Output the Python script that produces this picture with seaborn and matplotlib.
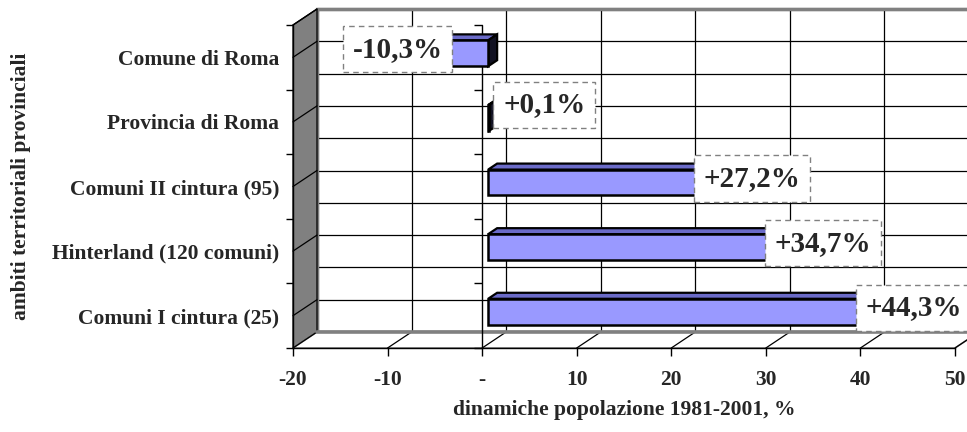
import numpy as np
import matplotlib
matplotlib.use("Agg")
import matplotlib.pyplot as plt
import matplotlib.transforms as mtransforms
from matplotlib.patches import Polygon, Rectangle
import seaborn as sns

# Data: population change 1981-2001 (%) by territorial area
categories = [
    "Comune di Roma",
    "Provincia di Roma",
    "Comuni II cintura (95)",
    "Hinterland (120 comuni)",
    "Comuni I cintura (25)",
]
values = [-10.3, 0.1, 27.2, 34.7, 44.3]
xticks = [-20, -10, 0, 10, 20, 30, 40, 50]
xticklabels = ["-20", "-10", "-", "10", "20", "30", "40", "50"]

sns.set_style("white")
plt.rcParams["font.family"] = ["Liberation Serif", "DejaVu Serif"]
plt.rcParams["font.weight"] = "bold"

W, H, DPI = 967, 432, 100
fig = plt.figure(figsize=(W / DPI, H / DPI), dpi=DPI)
# front plane of the 3D box
left, right, top, bottom = 293, 955, 25, 348
ax = fig.add_axes([left / W, (H - bottom) / H, (right - left) / W, (bottom - top) / H])
ax.patch.set_visible(False)

sns.barplot(x=values, y=categories, orient="h", color="#9999FF", width=0.4,
            edgecolor="black", linewidth=1.8, saturation=1, ax=ax)
bars = list(ax.patches)

ax.set_xlim(-20, 50)
ax.set_ylim(4.5, -0.5)

DEPTH = np.array([24.0, 16.0])   # pixel offset from front plane to back wall
BAR_FRONT, BAR_BACK = 0.25, 0.625

def off(frac):
    d = DEPTH * frac
    return mtransforms.offset_copy(ax.transData, fig=fig, x=d[0], y=d[1], units="dots")

def P(x, y, frac):
    return ax.transData.transform((x, y)) + DEPTH * frac

ident = mtransforms.IdentityTransform()
n = len(categories)
ylo, yhi = -0.5, n - 0.5

# back wall
ax.add_patch(Rectangle((-20, ylo), 70, n, transform=off(1), facecolor="white",
                       edgecolor="#808080", lw=2.4, zorder=0.3, clip_on=False))
# back wall grid: vertical lines at value ticks, horizontal at category centres and boundaries
for v in xticks[1:]:
    ax.plot([v, v], [ylo, yhi], color="black", lw=0.9, transform=off(1), zorder=0.4, clip_on=False)
for y in np.arange(ylo + 0.5, yhi, 0.5):
    ax.plot([-20, 50], [y, y], color="black", lw=0.9, transform=off(1), zorder=0.4, clip_on=False)
# redraw the border on top of the grid
ax.add_patch(Rectangle((-20, ylo), 70, n, transform=off(1), facecolor="none",
                       edgecolor="#808080", lw=2.4, zorder=0.45, clip_on=False))

# left wall
lw_pts = [P(-20, ylo, 0), P(-20, ylo, 1), P(-20, yhi, 1), P(-20, yhi, 0)]
ax.add_patch(Polygon(lw_pts, closed=True, transform=ident, facecolor="#808080",
                     edgecolor="black", lw=0.9, zorder=0.5, clip_on=False))
for i in range(n):
    a, b = P(-20, i, 0), P(-20, i, 1)
    ax.plot([a[0], b[0]], [a[1], b[1]], color="black", lw=0.9, transform=ident,
            zorder=0.55, clip_on=False)

# floor
fl_pts = [P(-20, yhi, 0), P(50, yhi, 0), P(50, yhi, 1), P(-20, yhi, 1)]
ax.add_patch(Polygon(fl_pts, closed=True, transform=ident, facecolor="white",
                     edgecolor="#808080", lw=1.2, zorder=0.5, clip_on=False))
for v in xticks:
    a, b = P(v, yhi, 0), P(v, yhi, 1)
    ax.plot([a[0], b[0]], [a[1], b[1]], color="black", lw=0.9, transform=ident,
            zorder=0.55, clip_on=False)
a, b = P(-20, yhi, 1), P(50, yhi, 1)
ax.plot([a[0], b[0]], [a[1], b[1]], color="#808080", lw=2.6, transform=ident,
        zorder=0.56, clip_on=False)
# top edge of left wall
a, b = P(-20, ylo, 0), P(-20, ylo, 1)
ax.plot([a[0], b[0]], [a[1], b[1]], color="black", lw=1.0, transform=ident, zorder=0.6, clip_on=False)

# category axis crossing at zero
ax.plot([0, 0], [ylo, yhi], color="black", lw=1.0, zorder=0.8, clip_on=False)
ax.plot(np.zeros(n + 1), np.arange(ylo, yhi + 0.01, 1.0), ls="none", marker=0,
        ms=6, mew=1.0, color="black", zorder=0.8, clip_on=False)

# 3D bar faces
for p in bars:
    p.set_transform(off(BAR_FRONT))
    p.set_zorder(1.2)
    x0 = min(p.get_x(), p.get_x() + p.get_width())
    x1 = max(p.get_x(), p.get_x() + p.get_width())
    yt = p.get_y()
    yb = p.get_y() + p.get_height()
    topf = [P(x0, yt, BAR_FRONT), P(x1, yt, BAR_FRONT), P(x1, yt, BAR_BACK), P(x0, yt, BAR_BACK)]
    ax.add_patch(Polygon(topf, closed=True, transform=ident, facecolor="#6B6BC8",
                         edgecolor="black", lw=1.6, zorder=1.1, clip_on=False))
    side = [P(x1, yt, BAR_FRONT), P(x1, yt, BAR_BACK), P(x1, yb, BAR_BACK), P(x1, yb, BAR_FRONT)]
    ax.add_patch(Polygon(side, closed=True, transform=ident, facecolor="#111122",
                         edgecolor="black", lw=1.6, zorder=1.1, clip_on=False))

# value labels
for i, v in enumerate(values):
    txt = f"{v:+.1f}%".replace(".", ",")
    if abs(v) < 5:
        t = mtransforms.offset_copy(ax.transData, fig=fig, x=20, y=17, units="dots")
        ha = "left"
    else:
        t = mtransforms.offset_copy(ax.transData, fig=fig, x=13, y=8, units="dots")
        ha = "center"
    ax.text(v, i, txt, transform=t, ha=ha, va="center", fontsize=21, fontweight="bold",
            zorder=5, clip_on=False,
            bbox=dict(boxstyle="square,pad=0.33", facecolor="white", edgecolor="#808080",
                      lw=1.0, linestyle=(0, (4, 3))))

# axes: spines, ticks and labels on the front plane
for s in ["top", "right"]:
    ax.spines[s].set_visible(False)
for s in ["left", "bottom"]:
    ax.spines[s].set_visible(True)
    ax.spines[s].set_color("black")
    ax.spines[s].set_linewidth(1.0)
    ax.spines[s].set_zorder(2.5)

ax.set_xticks(xticks)
ax.set_xticklabels(xticklabels, fontsize=15.5, fontweight="bold")
ax.tick_params(axis="x", direction="out", length=6, width=1.0, color="black", pad=10,
               bottom=True)
ax.set_yticks(range(n))
ax.set_yticklabels(categories, fontsize=15.5, fontweight="bold")
ax.set_yticks(np.arange(ylo, yhi + 0.01, 1.0), minor=True)
ax.tick_params(axis="y", which="major", length=0, pad=10, left=False)
ax.tick_params(axis="y", which="minor", direction="out", length=5, width=1.0,
               color="black", left=True)
ax.grid(False)

ax.set_xlabel("dinamiche popolazione 1981-2001, %", fontsize=15.5, fontweight="bold")
ax.xaxis.set_label_coords(0.5, -(410 - 348) / (bottom - top))
ax.xaxis.label.set_va("center")
ax.set_ylabel("ambiti territoriali provinciali", fontsize=15.5, fontweight="bold")
ax.yaxis.set_label_coords(-(293 - 21) / (right - left), 0.5)
ax.yaxis.label.set_va("center")

fig.savefig("out.png", dpi=DPI, facecolor="white")
